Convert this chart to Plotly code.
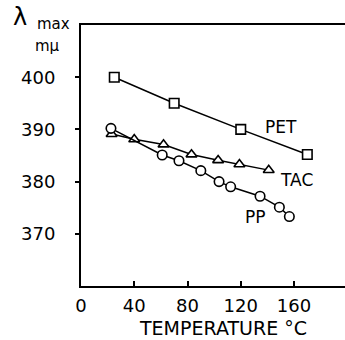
import plotly.graph_objects as go

pet_x = [25, 70, 120, 170]
pet_y = [400, 395, 390, 385.2]
tac_x = [23, 40, 62, 83, 103, 119, 141]
tac_y = [389.1, 388.1, 387.1, 385.2, 384.1, 383.3, 382.2]
pp_x = [22.5, 61, 73.6, 90, 103.7, 112.4, 134.5, 149, 156.5]
pp_y = [390.2, 385.1, 384.0, 382.1, 380.0, 379.0, 377.2, 375.1, 373.3]

x_ticks = [0, 40, 80, 120, 160]
y_ticks = [370, 380, 390, 400]
series_labels = [("PET", 150, 390.4), ("TAC", 162, 380.3), ("PP", 131, 373.3)]

FONT = "DejaVu Sans"

fig = go.Figure()
for xs, ys, sym in [(pet_x, pet_y, "square"), (tac_x, tac_y, "triangle-up"),
                    (pp_x, pp_y, "circle")]:
    fig.add_trace(go.Scatter(x=xs, y=ys, mode="lines", line=dict(color="black", width=1.5),
                             showlegend=False, hoverinfo="skip"))
    fig.add_trace(go.Scatter(x=xs, y=ys, mode="markers", showlegend=False,
                             marker=dict(symbol=sym, size=9.5, color="white",
                                         line=dict(color="black", width=1.6))))

for name, lx, ly in series_labels:
    fig.add_annotation(x=lx, y=ly, text=name, showarrow=False,
                       font=dict(family=FONT, size=17, color="black"))

fig.add_annotation(xref="paper", yref="paper", x=0.538, y=-0.16, yanchor="middle",
                   text="TEMPERATURE °C", showarrow=False,
                   font=dict(family=FONT, size=19, color="black"))
fig.add_annotation(xref="paper", yref="paper", x=-0.231, y=1.03, xanchor="center",
                   yanchor="middle", text="λ", showarrow=False,
                   font=dict(family=FONT, size=24, color="black"))
fig.add_annotation(xref="paper", yref="paper", x=-0.174, y=1.004, xanchor="left",
                   yanchor="middle", text="max", showarrow=False,
                   font=dict(family=FONT, size=15, color="black"))
fig.add_annotation(xref="paper", yref="paper", x=-0.182, y=0.92, xanchor="left",
                   yanchor="middle", text="mμ", showarrow=False,
                   font=dict(family=FONT, size=15, color="black"))

fig.update_layout(
    width=345, height=340,
    margin=dict(l=81, r=0, t=25, b=54),
    paper_bgcolor="white", plot_bgcolor="white",
    font=dict(family=FONT, size=17, color="black"),
    xaxis=dict(range=[0, 198.3], tickvals=x_ticks, ticks="inside", ticklen=5, tickwidth=1.5,
               tickcolor="black", showline=True, linecolor="black", linewidth=2, mirror=True,
               showgrid=False, zeroline=False, ticklabelstandoff=2,
               tickfont=dict(family=FONT, size=18)),
    yaxis=dict(range=[360, 410], tickvals=y_ticks, ticks="outside", ticklen=4, tickwidth=1.5,
               tickcolor="black", showline=True, linecolor="black", linewidth=2,
               showgrid=False, zeroline=False, ticklabelstandoff=16,
               tickfont=dict(family=FONT, size=18)),
)
fig.write_html("out.html")
